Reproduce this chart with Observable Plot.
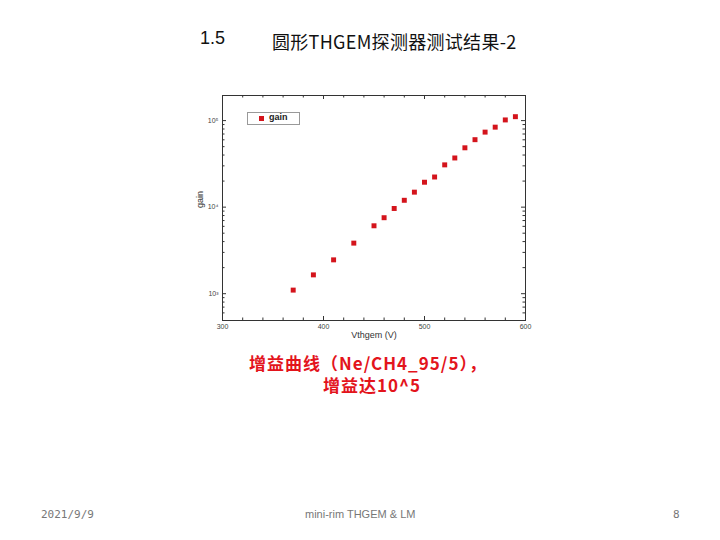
<!DOCTYPE html>
<html>
<head>
<meta charset="utf-8">
<script src="https://cdn.jsdelivr.net/npm/d3@7"></script>
<script src="https://cdn.jsdelivr.net/npm/@observablehq/plot@0.6"></script>
<style>
  html, body { margin: 0; padding: 0; background: #fff; }
  body { width: 720px; height: 540px; position: relative; overflow: hidden; font-family: "Liberation Sans", "Noto Sans CJK SC", sans-serif; }
  .abs { position: absolute; white-space: nowrap; }
  #num { left: 200px; top: 28px; font-size: 18px; color: #111; }
  #title { left: 272px; top: 28px; font-size: 18px; color: #111; font-family: "Noto Sans CJK SC", sans-serif; letter-spacing: 0.3px; }
  #chart { left: 180px; top: 85px; }
  #legend { left: 247px; top: 112px; width: 51px; height: 11px; border: 1px solid #999; background: #fff; font-size: 9px; font-weight: bold; color: #222; }
  #legend .sq { position: absolute; left: 11px; top: 3px; width: 5px; height: 5px; background: #d4141c; }
  #legend .lt { position: absolute; left: 21px; top: -1px; }
  .cap { width: 320px; text-align: center; color: #e3141c; font-weight: bold; font-size: 17px; line-height: 20px; letter-spacing: 1px; font-family: "Noto Sans CJK SC", sans-serif; }
  #cap1 { left: 208px; top: 353px; }
  #cap2 { left: 212px; top: 375px; }
  .foot { top: 508px; font-size: 11px; color: #777; font-family: "DejaVu Sans Mono", monospace; }
  #date { left: 41px; }
  #mid { left: 305px; font-family: "Liberation Sans", sans-serif; }
  #page { left: 673px; }
</style>
</head>
<body>
<div class="abs" id="num">1.5</div>
<div class="abs" id="title">圆形THGEM探测器测试结果-2</div>
<div class="abs" id="chart"></div>
<div class="abs" id="legend"><div class="sq"></div><div class="lt">gain</div></div>
<div class="abs cap" id="cap1">增益曲线（Ne/CH4_95/5），</div>
<div class="abs cap" id="cap2">增益达10^5</div>
<div class="abs foot" id="date">2021/9/9</div>
<div class="abs foot" id="mid">mini-rim THGEM &amp; LM</div>
<div class="abs foot" id="page">8</div>
<script>
// data
const voltage = [370, 390, 410, 430, 450, 460, 470, 480, 490, 500, 510, 520, 530, 540, 550, 560, 570, 580, 590];
const gain = [1100, 1650, 2460, 3840, 6090, 7550, 9650, 12000, 14900, 19400, 22300, 30800, 37000, 48500, 60200, 73600, 84000, 101800, 111000];
// ticks
const xMajor = [300, 400, 500, 600];
const xMinor = [320, 340, 360, 380, 420, 440, 460, 480, 520, 540, 560, 580];
const yMajor = [1000, 10000, 100000];
const yMinor = [600, 700, 800, 900, 2000, 3000, 4000, 5000, 6000, 7000, 8000, 9000, 20000, 30000, 40000, 50000, 60000, 70000, 80000, 90000];
const yLabels = ["10³", "10⁴", "10⁵"];

const rows = voltage.map((v, i) => ({v, g: gain[i]}));
const W = 370, H = 265, mL = 42, mR = 25, mT = 10, mB = 30;
const iw = W - mL - mR, ih = H - mT - mB;

const chart = Plot.plot({
  width: W, height: H,
  marginLeft: mL, marginRight: mR, marginTop: mT, marginBottom: mB,
  style: {background: "transparent", fontFamily: "Liberation Sans, sans-serif"},
  x: {domain: [300, 600], axis: null},
  y: {type: "log", domain: [490, 195000], axis: null},
  marks: [
    Plot.tickX(xMajor, {x: d => d, insetTop: ih - 4, stroke: "#333"}),
    Plot.tickX(xMinor, {x: d => d, insetTop: ih - 2.5, stroke: "#333"}),
    Plot.tickX(xMajor, {x: d => d, insetBottom: ih - 4, stroke: "#333"}),
    Plot.tickX(xMinor, {x: d => d, insetBottom: ih - 2.5, stroke: "#333"}),
    Plot.tickY(yMajor, {y: d => d, insetRight: iw - 4, stroke: "#333"}),
    Plot.tickY(yMinor, {y: d => d, insetRight: iw - 2.5, stroke: "#333"}),
    Plot.tickY(yMajor, {y: d => d, insetLeft: iw - 4, stroke: "#333"}),
    Plot.tickY(yMinor, {y: d => d, insetLeft: iw - 2.5, stroke: "#333"}),
    Plot.frame({stroke: "#333", strokeWidth: 1}),
    Plot.text(xMajor, {x: d => d, frameAnchor: "bottom", dy: 8, fontSize: 7, fill: "#444"}),
    Plot.text(yMajor, {y: d => d, frameAnchor: "left", dx: -4, textAnchor: "end", text: (d, i) => yLabels[i], fontSize: 7, fill: "#444"}),
    Plot.text(["Vthgem (V)"], {frameAnchor: "bottom", dy: 17, fontSize: 9, fill: "#333"}),
    Plot.text(["gain"], {frameAnchor: "left", dx: -22, rotate: -90, fontSize: 9, fill: "#333"}),
    Plot.dot(rows, {x: "v", y: "g", symbol: "square", r: 2.8, fill: "#d4141c", stroke: null})
  ]
});
document.getElementById("chart").appendChild(chart);
</script>
</body>
</html>
